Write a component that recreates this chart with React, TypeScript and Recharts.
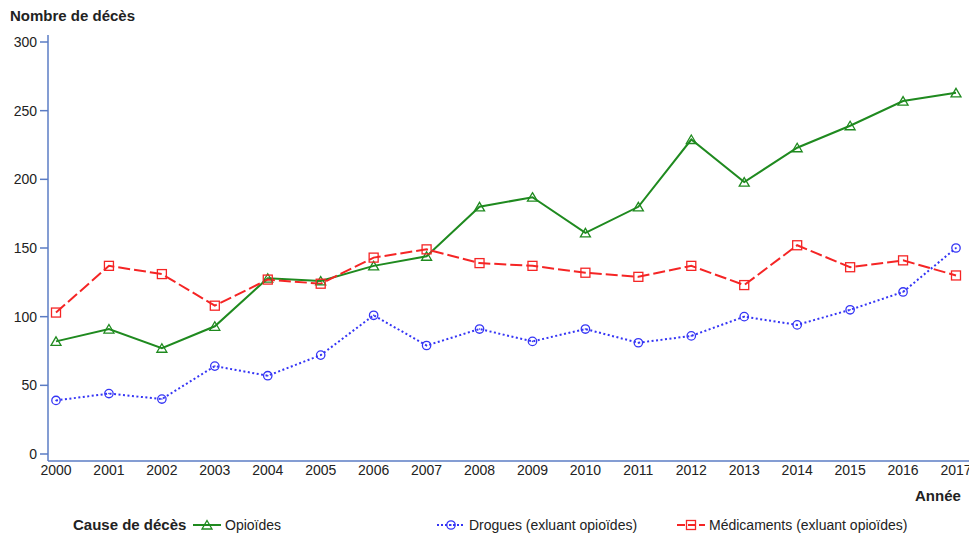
import { LineChart, Line, XAxis, YAxis } from 'recharts'

const years = [2000, 2001, 2002, 2003, 2004, 2005, 2006, 2007, 2008, 2009, 2010, 2011, 2012, 2013, 2014, 2015, 2016, 2017]
const opioides = [82, 91, 77, 93, 128, 126, 137, 144, 180, 187, 161, 180, 229, 198, 223, 239, 257, 263]
const drogues = [39, 44, 40, 64, 57, 72, 101, 79, 91, 82, 91, 81, 86, 100, 94, 105, 118, 150]
const medicaments = [103, 137, 131, 108, 127, 124, 143, 149, 139, 137, 132, 129, 137, 123, 152, 136, 141, 130]
const yTicks = [0, 50, 100, 150, 200, 250, 300]

const data = years.map((y, i) => ({
  year: y,
  opioides: opioides[i],
  drogues: drogues[i],
  medicaments: medicaments[i],
}))

const GREEN = '#1f8a1f'
const BLUE = '#3535f5'
const RED = '#f52525'
const AXIS = '#5b7cc4'
const FONT = '"Liberation Sans", Arial, sans-serif'

const Tri = (props: any) => {
  const { cx, cy } = props
  if (cx == null || cy == null) return null
  return <path d={`M${cx},${cy - 4.5} L${cx + 5},${cy + 4} L${cx - 5},${cy + 4} Z`} fill="none" stroke={GREEN} strokeWidth={1.3} />
}
const Circ = (props: any) => {
  const { cx, cy } = props
  if (cx == null || cy == null) return null
  return (
    <g>
      <circle cx={cx} cy={cy} r={4.2} fill="none" stroke={BLUE} strokeWidth={1.3} />
      <circle cx={cx} cy={cy} r={0.8} fill={BLUE} />
    </g>
  )
}
const Sq = (props: any) => {
  const { cx, cy } = props
  if (cx == null || cy == null) return null
  return <rect x={cx - 4.5} y={cy - 4.5} width={9} height={9} fill="none" stroke={RED} strokeWidth={1.3} />
}

const LegendBox = () => (
  <svg width={969} height={24} style={{ position: 'absolute', left: 0, top: 512, fontFamily: FONT, fontSize: 14 }}>
    <text x={73} y={18} fontWeight="bold" fontSize={15} fill="#222">Cause de décès</text>
    <line x1={193} x2={221} y1={13} y2={13} stroke={GREEN} strokeWidth={2} />
    <Tri cx={207} cy={13} />
    <text x={225} y={18} fill="#222">Opioïdes</text>
    <line x1={437} x2={465} y1={13} y2={13} stroke={BLUE} strokeWidth={2} strokeDasharray="2 2" />
    <Circ cx={451} cy={13} />
    <text x={469} y={18} fill="#222">Drogues (exluant opioïdes)</text>
    <line x1={677} x2={705} y1={13} y2={13} stroke={RED} strokeWidth={2} strokeDasharray="8 3" />
    <Sq cx={691} cy={13} />
    <text x={709} y={18} fill="#222">Médicaments (exluant opioïdes)</text>
  </svg>
)

export default function App() {
  return (
    <div style={{ position: 'fixed', left: 0, top: 0, width: 969, height: 536, background: '#fff', fontFamily: FONT }}>
      <div style={{ position: 'absolute', left: 10, top: 7, fontSize: 15, fontWeight: 'bold', color: '#222' }}>Nombre de décès</div>
      <div style={{ position: 'absolute', left: 915, top: 487, fontSize: 15, fontWeight: 'bold', color: '#222' }}>Année</div>
      <LineChart width={969} height={536} data={data} margin={{ top: 35, right: 0, bottom: 45, left: 0 }} style={{ overflow: 'visible' }}>
        <XAxis
          dataKey="year"
          type="number"
          domain={[2000, 2017]}
          ticks={years}
          padding={{ left: 8, right: 13 }}
          stroke={AXIS}
          strokeWidth={1.5}
          tickLine={false}
          tickSize={0}
          tickMargin={4}
          tick={{ fill: '#222', fontSize: 14, fontFamily: FONT }}
          interval={0}
        />
        <YAxis
          domain={[0, 300]}
          ticks={yTicks}
          width={48}
          padding={{ top: 7, bottom: 7 }}
          stroke={AXIS}
          strokeWidth={1.5}
          tickSize={8}
          tickMargin={3}
          tick={{ fill: '#222', fontSize: 14, fontFamily: FONT }}
        />
        <Line dataKey="opioides" stroke={GREEN} strokeWidth={2} dot={<Tri />} isAnimationActive={false} />
        <Line dataKey="drogues" stroke={BLUE} strokeWidth={2} strokeDasharray="2 2.5" dot={<Circ />} isAnimationActive={false} />
        <Line dataKey="medicaments" stroke={RED} strokeWidth={2} strokeDasharray="12 4" dot={<Sq />} isAnimationActive={false} />
      </LineChart>
      <LegendBox />
    </div>
  )
}
